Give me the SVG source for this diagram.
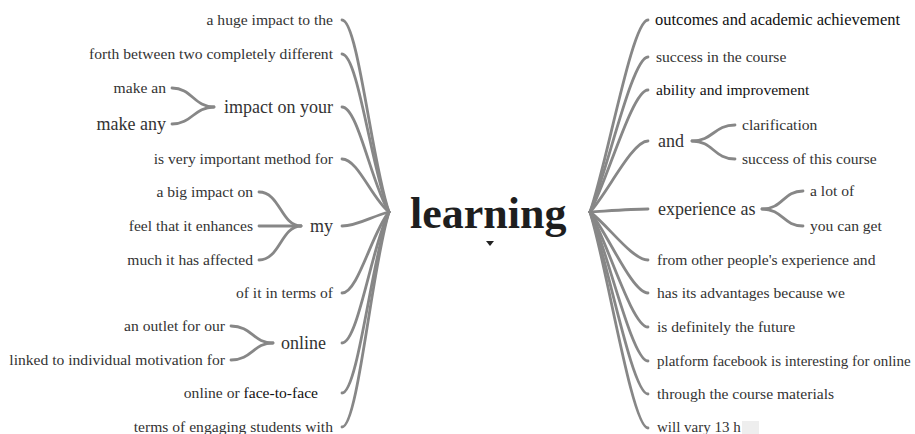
<svg xmlns="http://www.w3.org/2000/svg" width="915" height="434" viewBox="0 0 915 434" font-family="'Liberation Serif', 'DejaVu Serif', serif">
<style>
text{font-family:'Liberation Serif','DejaVu Serif',serif;fill:#333}
.s{font-size:15.6px}
.b{font-size:18px}
.L{text-anchor:end}
.root{font-size:44px;font-weight:bold;fill:#1e1e1e}
.c path{fill:none;stroke:#878787;stroke-width:2.8;stroke-linecap:round}
.dk{fill:#111}
</style>
<rect width="915" height="434" fill="#fff"/>
<g class="c" id="connectors">
<path d="M342,20 C358,20 372,164 389,212"/>
<path d="M342,54 C358,54 372,172 389,212"/>
<path d="M342,107 C358,107 372,186 389,212"/>
<path d="M342,159 C358,159 372,199 389,212"/>
<path d="M342,226 C358,226 372,216 389,212"/>
<path d="M342,293 C358,293 372,232 389,212"/>
<path d="M342,343 C358,343 372,245 389,212"/>
<path d="M342,393 C358,393 372,257 389,212"/>
<path d="M342,427 C358,427 372,266 389,212"/>
<path d="M172,88 C192,88 194,107 214,107"/>
<path d="M172,124 C192,124 194,107 214,107"/>
<path d="M259,192 C280,192 281,226 301,226"/>
<path d="M259,226 C280,226 281,226 301,226"/>
<path d="M259,260 C280,260 281,226 301,226"/>
<path d="M231,326 C252,326 253,343 273,343"/>
<path d="M231,360 C252,360 253,343 273,343"/>
<path d="M590,212 C607,164 632,20 648,20"/>
<path d="M590,212 C607,173 632,57 648,57"/>
<path d="M590,212 C607,182 632,90 648,90"/>
<path d="M590,212 C607,194 632,141 648,141"/>
<path d="M590,212 C607,211 632,209 648,209"/>
<path d="M590,212 C607,224 632,260 648,260"/>
<path d="M590,212 C607,232 632,293 648,293"/>
<path d="M590,212 C607,241 632,327 648,327"/>
<path d="M590,212 C607,249 632,361 648,361"/>
<path d="M590,212 C607,258 632,394 648,394"/>
<path d="M590,212 C607,266 632,428 648,428"/>
<path d="M692,141 C713,141 714,125 735,125"/>
<path d="M692,141 C713,141 714,159 735,159"/>
<path d="M762,209 C783,209 783,191 803,191"/>
<path d="M762,209 C783,209 783,226 803,226"/>
</g>
<g id="root"><text class="root" x="410" y="228">learning</text><path d="M486,241 L494,241 L490,246 Z" fill="#222"/></g>
<g id="l1"><text class="s L" x="333" y="25">a huge impact to the</text></g>
<g id="l2"><text class="s L" x="333" y="59">forth between two completely different</text></g>
<g id="l3"><text class="b L" x="333" y="113">impact on your</text></g>
<g id="l3a"><text class="s L" x="166" y="93">make an</text></g>
<g id="l3b"><text class="b L" x="166" y="130">make any</text></g>
<g id="l4"><text class="s L" x="333" y="164">is very important method for</text></g>
<g id="l5"><text class="b L" x="333" y="232">my</text></g>
<g id="l5a"><text class="s L" x="253" y="197">a big impact on</text></g>
<g id="l5b"><text class="s L" x="253" y="231">feel that it enhances</text></g>
<g id="l5c"><text class="s L" x="253" y="265">much it has affected</text></g>
<g id="l6"><text class="s L" x="333" y="298">of it in terms of</text></g>
<g id="l7"><text class="b L" x="326" y="349">online</text></g>
<g id="l7a"><text class="s L" x="225" y="331">an outlet for our</text></g>
<g id="l7b"><text class="s L" x="225" y="365">linked to individual motivation for</text></g>
<g id="l8"><text class="s L" x="318" y="398">online or <tspan class="dk">face-to-face</tspan></text></g>
<g id="l9"><text class="s L" x="333" y="432">terms of engaging students with</text></g>
<g id="r1"><text class="s dk" x="655" y="25" style="font-size:16.5px">outcomes and academic achievement</text></g>
<g id="r2"><text class="s" x="656" y="62">success in the course</text></g>
<g id="r3"><text class="s dk" x="656" y="95">ability and improvement</text></g>
<g id="r4"><text class="b" x="658" y="147">and</text></g>
<g id="r4a"><text class="s" x="742" y="130">clarification</text></g>
<g id="r4b"><text class="s" x="742" y="164">success of this course</text></g>
<g id="r5"><text class="b" x="658" y="215">experience as</text></g>
<g id="r5a"><text class="s" x="810" y="196">a lot of</text></g>
<g id="r5b"><text class="s" x="810" y="231">you can get</text></g>
<g id="r6"><text class="s" x="657" y="265">from other people's experience and</text></g>
<g id="r7"><text class="s" x="657" y="298">has its advantages because we</text></g>
<g id="r8"><text class="s" x="657" y="332">is definitely the future</text></g>
<g id="r9"><text class="s" x="657" y="366" style="font-size:15px">platform facebook is interesting for online</text></g>
<g id="r10"><text class="s" x="657" y="399">through the course materials</text></g>
<g id="r11"><text class="s" x="657" y="432" style="font-size:15px">will vary 13 h</text><rect x="742" y="421" width="17" height="13" fill="#eeeeee"/></g>
</svg>
